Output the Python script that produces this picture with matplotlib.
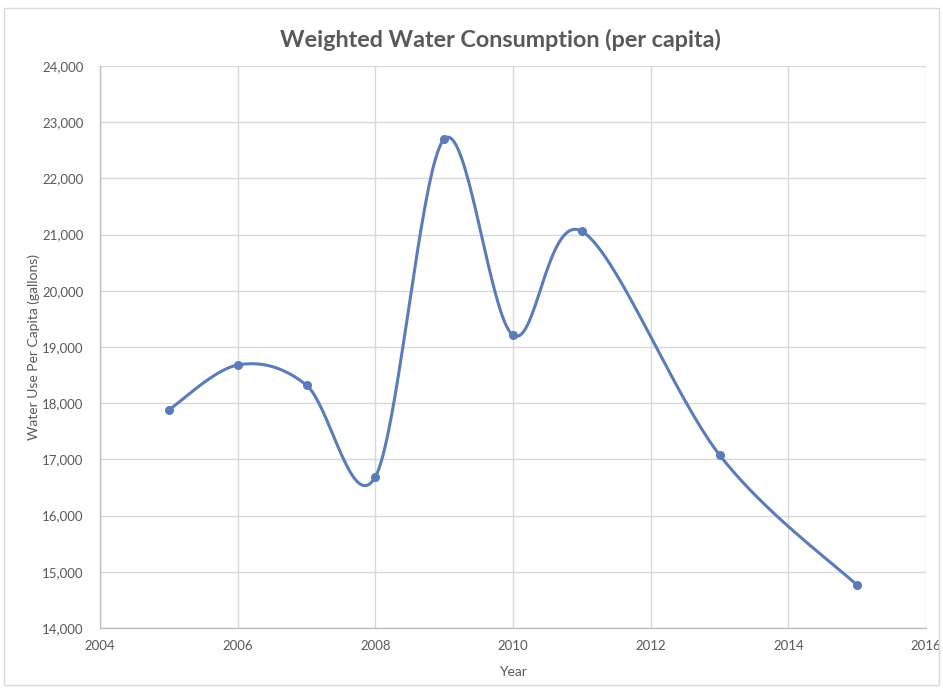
import numpy as np
import matplotlib
matplotlib.use("Agg")
import matplotlib.pyplot as plt
from matplotlib.patches import Rectangle
from matplotlib.ticker import FuncFormatter

years = [2005, 2006, 2007, 2008, 2009, 2010, 2011, 2013, 2015]
usage = [17880, 18680, 18320, 16690, 22700, 19210, 21060, 17080, 14760]

plt.rcParams['font.family'] = ['Lato', 'DejaVu Sans']

W, H = 943, 689
fig = plt.figure(figsize=(W / 100, H / 100), dpi=100)
fig.patches.append(Rectangle((4 / W, 4 / H), (W - 8) / W, (H - 12) / H, transform=fig.transFigure,
                             fill=False, edgecolor='#d9d9d9', linewidth=1))
ax = fig.add_axes([100 / W, (H - 628) / H, 826 / W, 562 / H])

# Excel-style smoothed line (Catmull-Rom Bezier)
x = np.array(years, dtype=float)
y = np.array(usage, dtype=float)
xs, ys = [], []
n = len(x)
t = np.linspace(0, 1, 40)
for i in range(n - 1):
    p0 = np.array([x[max(i - 1, 0)], y[max(i - 1, 0)]])
    p1 = np.array([x[i], y[i]])
    p2 = np.array([x[i + 1], y[i + 1]])
    p3 = np.array([x[min(i + 2, n - 1)], y[min(i + 2, n - 1)]])
    c1 = p1 + (p2 - p0) / 6
    c2 = p2 - (p3 - p1) / 6
    for tt in t:
        b = ((1 - tt) ** 3) * p1 + 3 * ((1 - tt) ** 2) * tt * c1 + 3 * (1 - tt) * tt ** 2 * c2 + tt ** 3 * p2
        xs.append(b[0]); ys.append(b[1])

color = '#5b7cb8'
ax.plot(xs, ys, color=color, linewidth=2.2, solid_capstyle='round', zorder=3)
ax.plot(years, usage, 'o', color=color, markersize=5.5, zorder=4)

ax.set_xlim(2004, 2016)
ax.set_ylim(14000, 24000)
ax.set_xticks(range(2004, 2017, 2))
ax.set_yticks(range(14000, 24001, 1000))
ax.yaxis.set_major_formatter(FuncFormatter(lambda v, p: f"{int(v):,}"))
ax.grid(True, color='#d9d9d9', linewidth=1)
ax.set_axisbelow(True)
for s in ['top', 'right']:
    ax.spines[s].set_visible(False)
for s in ['left', 'bottom']:
    ax.spines[s].set_color('#bfbfbf')
    ax.spines[s].set_linewidth(1)
ax.tick_params(length=0, labelsize=9.5, labelcolor='#595959', pad=9)
ax.tick_params(axis='y', pad=12)

ax.set_xlabel('Year', fontsize=10, color='#595959')
ax.set_ylabel('Water Use Per Capita (gallons)', fontsize=10, color='#595959')
ax.xaxis.set_label_coords(0.5, -0.068)
ax.yaxis.set_label_coords(-0.073, 0.5)
fig.text(500 / W, 1 - 40 / H, 'Weighted Water Consumption (per capita)', ha='center', va='center',
         fontsize=16.8, fontweight='bold', color='#595959')

fig.savefig('out.png', dpi=100)
